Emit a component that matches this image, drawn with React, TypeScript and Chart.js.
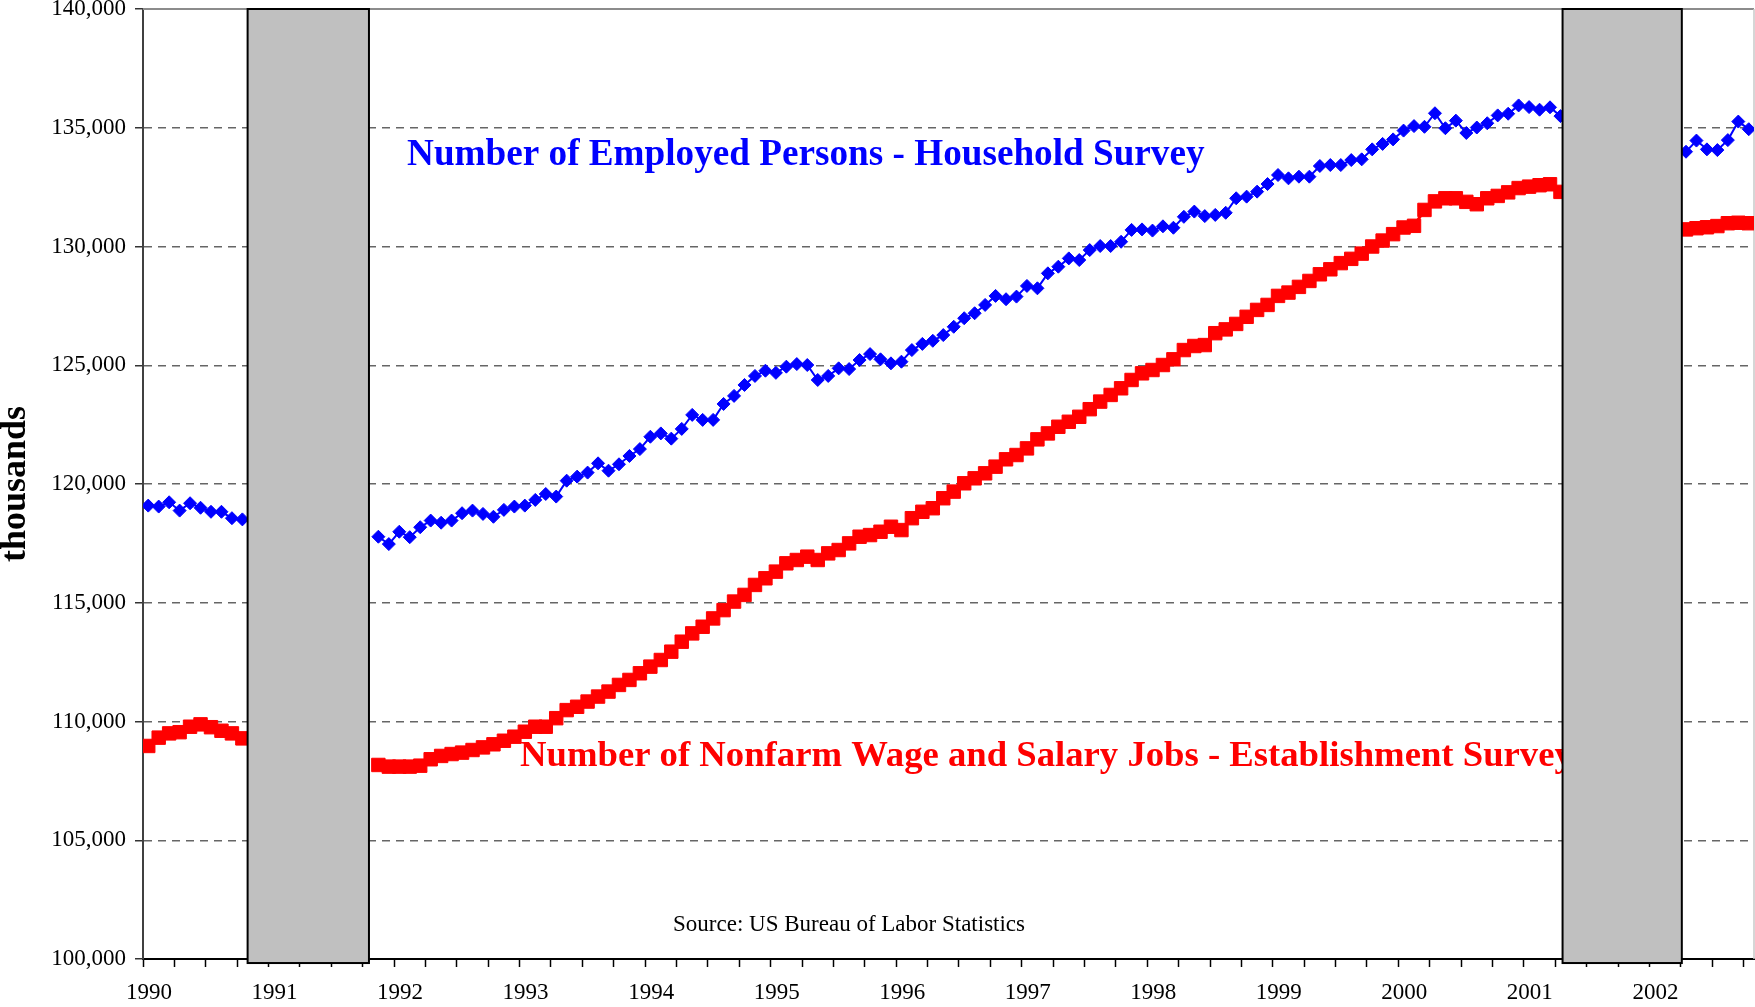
import React, { useEffect, useRef } from 'react';
import { Chart, registerables } from 'chart.js';

Chart.register(...registerables);

// Monthly categories: Jan 1990 (index 0) .. Oct 2002 (index 153)
const yearLabels = ['1990', '1991', '1992', '1993', '1994', '1995', '1996', '1997', '1998', '1999', '2000', '2001', '2002'];

// Number of Employed Persons - Household Survey (thousands); null = hidden behind recession bars
const householdEmployed: (number | null)[] = [
  // 1990
  119090, 119050, 119230, 118880, 119190, 119000, 118830, 118830, 118560, 118510, null, null,
  // 1991
  null, null, null, null, null, null, null, null, null, null, 117780, 117470,
  // 1992
  117990, 117760, 118180, 118460, 118370, 118460, 118770, 118880, 118740, 118620, 118910, 119050,
  // 1993
  119090, 119330, 119580, 119470, 120140, 120310, 120480, 120870, 120560, 120830, 121180, 121470,
  // 1994
  121990, 122130, 121910, 122320, 122910, 122700, 122700, 123370, 123710, 124170, 124550, 124770,
  // 1995
  124680, 124940, 125050, 125010, 124380, 124550, 124870, 124840, 125220, 125470, 125250, 125080,
  // 1996
  125150, 125640, 125900, 126030, 126270, 126620, 126980, 127190, 127540, 127920, 127780, 127890,
  // 1997
  128340, 128240, 128870, 129150, 129500, 129430, 129850, 130020, 130020, 130200, 130700, 130720,
  // 1998
  130670, 130850, 130790, 131250, 131470, 131280, 131330, 131420, 132030, 132100, 132310, 132630,
  // 1999
  133010, 132870, 132940, 132940, 133390, 133430, 133430, 133640, 133670, 134090, 134320, 134510,
  // 2000
  134880, 135070, 135040, 135610, 134980, 135300, 134780, 135010, 135190, 135520, 135590, 135940,
  // 2001
  135870, 135760, 135860, 135490, null, null, null, null, null, null, null, null,
  // 2002
  null, null, null, 133990, 134460, 134090, 134060, 134480, 135260, 134940,
];

// Number of Nonfarm Wage and Salary Jobs - Establishment Survey (thousands)
const nonfarmJobs: (number | null)[] = [
  // 1990
  108970, 109320, 109500, 109550, 109780, 109880, 109760, 109610, 109500, 109290, null, null,
  // 1991
  null, null, null, null, null, null, null, null, null, null, 108170, 108100,
  // 1992
  108100, 108100, 108140, 108410, 108550, 108630, 108690, 108800, 108910, 109040, 109190, 109360,
  // 1993
  109570, 109780, 109780, 110140, 110480, 110620, 110840, 111050, 111260, 111540, 111750, 112030,
  // 1994
  112310, 112590, 112940, 113360, 113710, 113990, 114340, 114690, 115050, 115330, 115750, 116030,
  // 1995
  116310, 116660, 116800, 116940, 116800, 117080, 117220, 117500, 117780, 117850, 117990, 118200,
  // 1996
  118060, 118560, 118830, 118980, 119400, 119680, 120030, 120240, 120450, 120730, 121040, 121220,
  // 1997
  121500, 121880, 122130, 122410, 122620, 122830, 123150, 123470, 123750, 124030, 124380, 124660,
  // 1998
  124800, 125010, 125250, 125640, 125810, 125850, 126350, 126510, 126740, 127040, 127330, 127540,
  // 1999
  127920, 128060, 128300, 128550, 128830, 129040, 129300, 129480, 129700, 130000, 130250, 130520,
  // 2000
  130800, 130870, 131540, 131900, 132030, 132030, 131880, 131780, 132030, 132130, 132280, 132460,
  // 2001
  132520, 132580, 132620, 132300, null, null, null, null, null, null, null, null,
  // 2002
  null, null, null, 130720, 130770, 130810, 130860, 130980, 131000, 130980,
];

// Recession shading, in category-index units
const recessionFrom = [9.5, 135.2];
const recessionTo = [21.1, 146.6];

const yMin = 100000;
const yMax = 140000;
const yStep = 5000;
const barBottomValue = 99830;

const SERIF = "'Liberation Serif', 'Times New Roman', serif";

const annotationTexts = ['Number of Employed Persons - Household Survey', 'Number of Nonfarm Wage and Salary Jobs - Establishment Survey', 'Source: US Bureau of Labor Statistics'];
const annotationX = [24.74, 35.54, 50.17];
const annotationY = [133450, 108140, 101180];
const annotationColors = ['#0000FF', '#FF0000', '#000000'];
const annotationFonts = [`bold 37.2px ${SERIF}`, `bold 36.7px ${SERIF}`, `23px ${SERIF}`];

export default function App() {
  const canvasRef = useRef<HTMLCanvasElement | null>(null);

  useEffect(() => {
    const canvas = canvasRef.current;
    if (!canvas) return;
    const n = householdEmployed.length;

    const framePlugin = {
      id: 'frame',
      beforeDatasetsDraw(chart: any) {
        const { ctx, chartArea } = chart;
        ctx.save();
        ctx.strokeStyle = '#8c8c8c';
        ctx.lineWidth = 2;
        ctx.beginPath();
        ctx.moveTo(chartArea.left, chartArea.top);
        ctx.lineTo(chartArea.right, chartArea.top);
        ctx.stroke();
        ctx.strokeStyle = '#c8c8c8';
        ctx.lineWidth = 1.5;
        ctx.beginPath();
        ctx.moveTo(chartArea.right, chartArea.top);
        ctx.lineTo(chartArea.right, chartArea.bottom);
        ctx.stroke();
        ctx.restore();
      },
    };

    const overlayPlugin = {
      id: 'overlay',
      afterDatasetsDraw(chart: any) {
        const { ctx } = chart;
        const xs = chart.scales.x;
        const ys = chart.scales.y;
        ctx.save();
        // annotation texts
        for (let i = 0; i < annotationTexts.length; i++) {
          ctx.font = annotationFonts[i];
          ctx.fillStyle = annotationColors[i];
          ctx.textAlign = 'left';
          ctx.textBaseline = 'alphabetic';
          ctx.fillText(annotationTexts[i], xs.getPixelForValue(annotationX[i]), ys.getPixelForValue(annotationY[i]));
        }
        // recession bars
        for (let i = 0; i < recessionFrom.length; i++) {
          const x1 = xs.getPixelForValue(recessionFrom[i]);
          const x2 = xs.getPixelForValue(recessionTo[i]);
          const y1 = ys.getPixelForValue(yMax);
          const y2 = ys.getPixelForValue(barBottomValue);
          ctx.fillStyle = '#C0C0C0';
          ctx.fillRect(x1, y1, x2 - x1, y2 - y1);
          ctx.strokeStyle = '#000000';
          ctx.lineWidth = 2;
          ctx.strokeRect(x1, y1, x2 - x1, y2 - y1);
        }
        ctx.restore();
      },
    };

    const chart = new Chart(canvas, {
      type: 'line',
      data: {
        datasets: [
          {
            label: 'Number of Nonfarm Wage and Salary Jobs - Establishment Survey',
            data: nonfarmJobs.map((v, i) => ({ x: i, y: v })) as any,
            borderColor: '#FF0000',
            backgroundColor: '#FF0000',
            borderWidth: 3,
            pointStyle: 'rect',
            pointRadius: 9.5,
            pointBorderWidth: 1,
            pointBorderColor: '#FF0000',
            pointBackgroundColor: '#FF0000',
            spanGaps: false,
            tension: 0,
          },
          {
            label: 'Number of Employed Persons - Household Survey',
            data: householdEmployed.map((v, i) => ({ x: i, y: v })) as any,
            borderColor: '#0000FF',
            backgroundColor: '#0000FF',
            borderWidth: 2,
            pointStyle: 'rectRot',
            pointRadius: 6.5,
            pointBorderWidth: 1,
            pointBorderColor: '#0000FF',
            pointBackgroundColor: '#0000FF',
            spanGaps: false,
            tension: 0,
          },
        ],
      },
      options: {
        animation: false,
        responsive: true,
        maintainAspectRatio: false,
        events: [],
        layout: { autoPadding: false, padding: { top: 9, right: 1, left: 0, bottom: 0 } },
        plugins: {
          legend: { display: false },
          tooltip: { enabled: false },
          title: { display: false },
        },
        scales: {
          x: {
            type: 'linear',
            min: -0.5,
            max: n - 0.5,
            afterBuildTicks(scale: any) {
              const ticks = [];
              for (let v = -0.5; v < n - 0.5; v += 3) ticks.push({ value: v });
              scale.ticks = ticks;
            },
            afterFit(scale: any) {
              scale.height = 48;
              scale.paddingLeft = 0;
              scale.paddingRight = 0;
            },
            ticks: {
              autoSkip: false,
              maxRotation: 0,
              minRotation: 0,
              padding: 12,
              labelOffset: 6,
              color: '#000000',
              font: { family: SERIF, size: 23 },
              callback(value: any) {
                const k = Math.round(Number(value) + 0.5);
                if (k % 12 === 0 && k / 12 < yearLabels.length) return yearLabels[k / 12];
                return '';
              },
            },
            grid: {
              display: true,
              drawOnChartArea: false,
              drawTicks: true,
              tickLength: 8,
              tickColor: '#000000',
              tickWidth: 1.5,
            },
            border: { display: true, color: '#000000', width: 2 },
          },
          y: {
            type: 'linear',
            min: yMin,
            max: yMax,
            afterFit(scale: any) {
              scale.width = 143;
              scale.paddingTop = 0;
              scale.paddingBottom = 0;
            },
            ticks: {
              stepSize: yStep,
              padding: 9,
              color: '#000000',
              font: { family: SERIF, size: 23 },
              callback(value: any) {
                return Number(value).toLocaleString('en-US');
              },
            },
            title: {
              display: true,
              text: 'thousands',
              color: '#000000',
              padding: 0,
              font: { family: SERIF, size: 36, weight: 'bold', lineHeight: 0.87 },
            },
            grid: {
              display: true,
              drawOnChartArea: true,
              drawTicks: true,
              tickLength: 8,
              tickColor: '#333333',
              tickWidth: 1.5,
              lineWidth: 1.5,
              color(ctx: any) {
                const v = ctx.tick ? ctx.tick.value : null;
                if (v === yMin || v === yMax) return 'rgba(0,0,0,0)';
                return '#666666';
              },
            },
            border: { display: true, color: '#404040', width: 2, dash: [8, 6] },
          },
        },
      } as any,
      plugins: [framePlugin, overlayPlugin],
    });

    return () => {
      chart.destroy();
    };
  }, []);

  return (
    <div style={{ position: 'fixed', left: 0, top: 0, width: 1755, height: 1007, background: '#ffffff' }}>
      <canvas ref={canvasRef} />
    </div>
  );
}
